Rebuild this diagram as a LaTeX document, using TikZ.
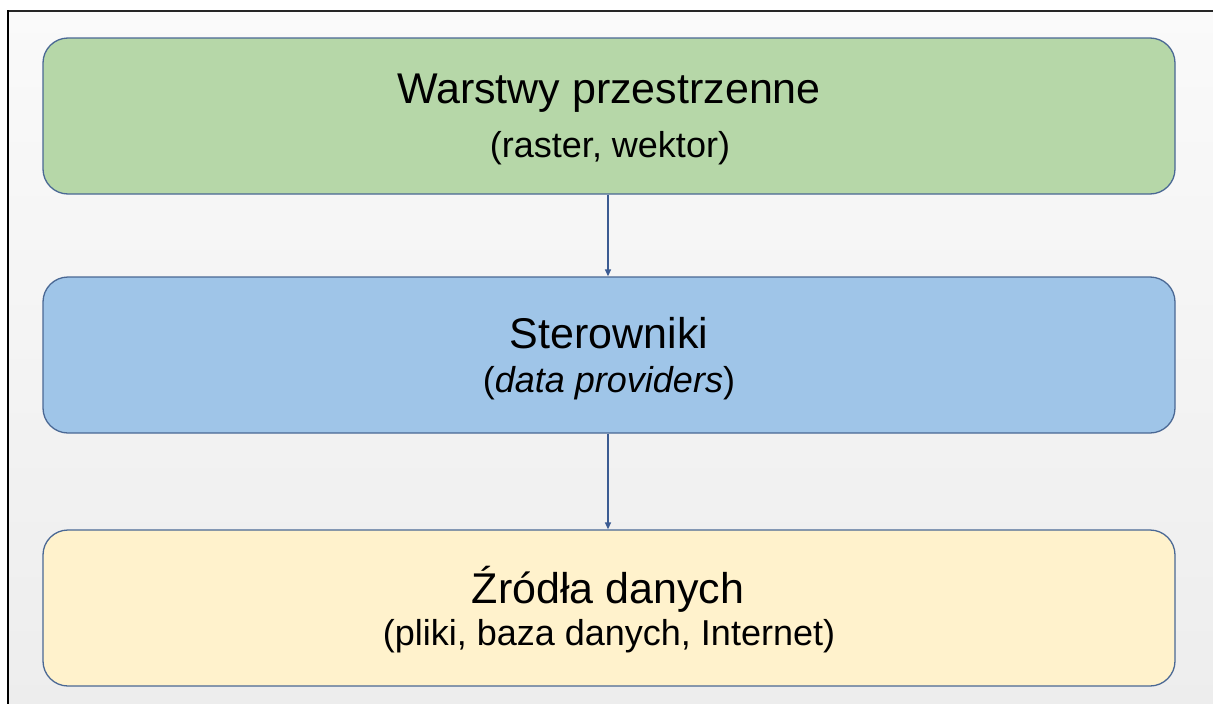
\documentclass[tikz,border=0pt]{standalone}
\usepackage{fontspec}
\setmainfont{Liberation Sans}
\usetikzlibrary{arrows.meta}
\definecolor{bordc}{HTML}{4A6894}
\definecolor{arrc}{HTML}{3B5B92}
\definecolor{greenf}{HTML}{B6D7A8}
\definecolor{bluef}{HTML}{9FC5E8}
\definecolor{yellowf}{HTML}{FFF2CC}
\tikzset{
  layerbox/.style={draw=bordc, line width=1.3pt, rounded corners=25pt,
    minimum width=1132pt, minimum height=156pt, inner sep=0pt},
  titletext/.style={anchor=base, inner sep=0pt, font=\fontsize{43}{50}\selectfont},
  subtext/.style={anchor=base, inner sep=0pt, font=\fontsize{36}{43}\selectfont},
  flowarrow/.style={draw=arrc, line width=1.3pt, -{Triangle[length=7pt,width=6pt]}}
}
\begin{document}
\begin{tikzpicture}[x=1pt,y=-1pt]
\useasboundingbox (0,0) rectangle (1213,704);
\shade[top color=white!98!black, bottom color=white!93!black] (8,11) rectangle (1213,704);
\draw[line width=1.6pt, black!85] (8,11) -- (1213,11);
\draw[line width=2.4pt, black] (8,10.2) -- (8,704);
\node[layerbox, fill=greenf] (g) at (609,116) {};
\node[layerbox, fill=bluef] (b) at (609,355) {};
\node[layerbox, fill=yellowf] (y) at (609,608) {};
\node[titletext] (gt) at (609,103) {Warstwy przestrzenne};
\node[subtext] (gs) at (610,157) {(raster, wektor)};
\node[titletext] (bt) at (609,348) {Sterowniki};
\node[subtext] (bs) at (609,392) {(\textit{data providers})};
\node[titletext] (yt) at (608,603) {Źródła danych};
\node[subtext] (ys) at (609,645) {(pliki, baza danych, Internet)};
\draw[flowarrow] ([xshift=-1pt]g.south) -- ([xshift=-1pt]b.north);
\draw[flowarrow] ([xshift=-1pt]b.south) -- ([xshift=-1pt]y.north);
\end{tikzpicture}
\end{document}
